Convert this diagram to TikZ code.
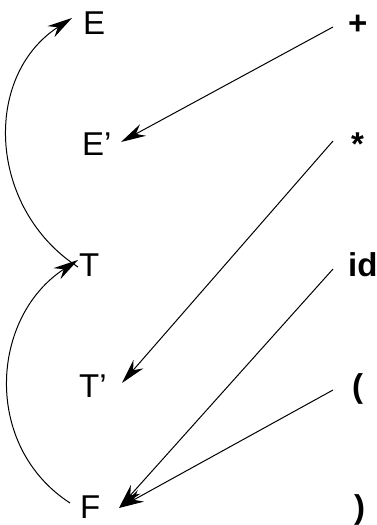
\documentclass[tikz,border=0pt]{standalone}
\usepackage{fontspec}
\setmainfont{Liberation Sans}
\usepackage{tikz}
\usetikzlibrary{arrows.meta}
\tikzset{
  ntsym/.style={anchor=base west, inner sep=0pt, font=\fontsize{33}{38}\selectfont},
  tsym/.style={anchor=base west, inner sep=0pt, font=\fontsize{33}{38}\selectfont\bfseries},
  tokarrow/.style={-{Stealth[length=25pt,width=13pt]}, line width=1pt},
  chainarrow/.style={-{Stealth[length=25pt,width=13pt]}, line width=1pt, out=147, in=-147, looseness=1.1}
}

\begin{document}
\begin{tikzpicture}[x=1pt,y=1pt]
  \useasboundingbox (0,0) rectangle (377,525);
  % nonterminals
  \node[ntsym] (E)  at (83,490) {E};
  \node[ntsym] (Ep) at (82,369) {E'};
  \node[ntsym] (T)  at (79,248) {T};
  \node[ntsym] (Tp) at (79,127) {T'};
  \node[ntsym] (F)  at (80,6)   {F};
  % terminals
  \node[tsym] (plus) at (348,490) {+};
  \node[tsym] (star) at (351,369) {*};
  \node[tsym] (id)   at (348,248) {id};
  \node[tsym] (lpar) at (352,127) {(};
  \node[tsym] (rpar) at (354,6)   {)};

  \draw[chainarrow] ([shift={(-1pt,10pt)}]T.base west) to ([shift={(-11pt,17pt)}]E.base west);
  \draw[chainarrow] ([shift={(-10pt,16pt)}]F.base west) to ([shift={(-1pt,17pt)}]T.base west);

  \draw[tokarrow] ([shift={(-15pt,8pt)}]plus.base west) -- ([shift={(39pt,14pt)}]Ep.base west);
  \draw[tokarrow] ([shift={(-18pt,15pt)}]star.base west) -- ([shift={(43pt,15pt)}]Tp.base west);
  \draw[tokarrow] ([shift={(-15pt,8pt)}]id.base west) -- ([shift={(39pt,11pt)}]F.base west);
  \draw[tokarrow] ([shift={(-19pt,8pt)}]lpar.base west) -- ([shift={(39pt,11pt)}]F.base west);
\end{tikzpicture}
\end{document}
